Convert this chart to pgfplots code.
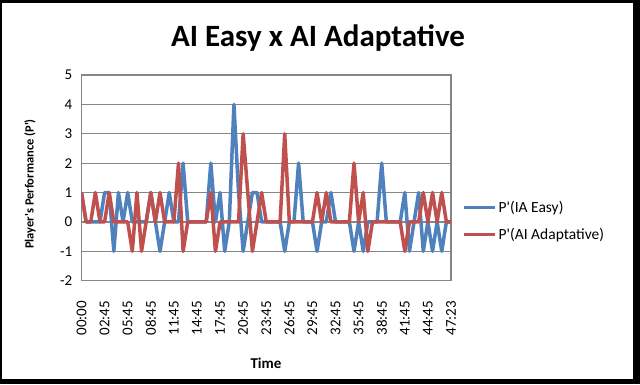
\documentclass[border=0pt]{standalone}
\usepackage{pgfplots}
\pgfplotsset{compat=1.18}
\usepackage{fontspec}
\setmainfont{Carlito}[Ligatures=TeXOff]
\definecolor{xlblue}{HTML}{4F81BD}
\definecolor{xlred}{HTML}{C0504D}
\definecolor{gridgray}{HTML}{868686}
\begin{document}
\begin{tikzpicture}
\useasboundingbox (-81.5pt,-103.3pt) rectangle (558.5pt,280.7pt);
\begin{scope}[x=1pt,y=1pt,shift={(-81.5pt,-103.3pt)}]
\fill[white] (0,0) rectangle (640,384);
\end{scope}
\begin{axis}[
  at={(0pt,0pt)}, anchor=south west,
  scale only axis, width=369.5pt, height=205.7pt,
  xmin=0, xmax=80, ymin=-2, ymax=5,
  xtick={0,5,...,80},
  xticklabels={00:00,02:45,05:45,08:45,11:45,14:45,17:45,20:45,23:45,26:45,29:45,32:45,35:45,38:45,41:45,44:45,47:23},
  ytick={-2,...,5},
  yticklabels={-2,-1,0,1,2,3,4,5},
  ymajorgrids,
  major grid style={gridgray, line width=1.2pt},
  axis line style={gridgray, line width=1.2pt},
  tick style={draw=none},
  xticklabel shift=20pt,
  yticklabel shift=9pt,
  xticklabel style={rotate=90, anchor=east, inner sep=0pt, font=\fontsize{15}{15}\selectfont},
  yticklabel style={anchor=east, inner sep=0pt, font=\fontsize{15}{15}\selectfont},
  legend style={at={(1,0.29)}, anchor=west, xshift=11pt, draw=none, fill=none,
    font=\fontsize{15.5}{15.5}\selectfont, row sep=10pt, inner sep=0pt, cells={anchor=west}},
  legend image code/.code={\draw[#1] (0pt,0pt) -- (31pt,0pt);},
]
\addplot[xlblue, line width=3.5pt, line join=round] coordinates {
(0,1)(1,0)(2,0)(3,0)(4,0)(5,1)(6,1)(7,-1)(8,1)(9,0)(10,1)(11,0)(12,0)(13,0)(14,0)(15,1)(16,0)(17,-1)(18,0)(19,1)(20,0)(21,0)(22,2)(23,0)(24,0)(25,0)(26,0)(27,0)(28,2)(29,0)(30,1)(31,-1)(32,0)(33,4)(34,1)(35,-1)(36,0)(37,1)(38,1)(39,0)(40,0)(41,0)(42,0)(43,0)(44,-1)(45,0)(46,0)(47,2)(48,0)(49,0)(50,0)(51,-1)(52,0)(53,0)(54,1)(55,0)(56,0)(57,0)(58,0)(59,-1)(60,0)(61,-1)(62,0)(63,0)(64,0)(65,2)(66,0)(67,0)(68,0)(69,0)(70,1)(71,-1)(72,0)(73,1)(74,-1)(75,0)(76,-1)(77,0)(78,-1)(79,0)(80,0)
};
\addlegendentry{P'(IA Easy)}
\addplot[xlred, line width=3.5pt, line join=round] coordinates {
(0,1)(1,0)(2,0)(3,1)(4,0)(5,0)(6,1)(7,0)(8,0)(9,0)(10,0)(11,-1)(12,1)(13,-1)(14,0)(15,1)(16,0)(17,1)(18,0)(19,0)(20,0)(21,2)(22,-1)(23,0)(24,0)(25,0)(26,0)(27,0)(28,1)(29,-1)(30,0)(31,0)(32,0)(33,0)(34,0)(35,3)(36,1)(37,-1)(38,0)(39,1)(40,0)(41,0)(42,0)(43,0)(44,3)(45,0)(46,0)(47,0)(48,0)(49,0)(50,0)(51,1)(52,0)(53,1)(54,0)(55,0)(56,0)(57,0)(58,0)(59,2)(60,0)(61,1)(62,-1)(63,0)(64,0)(65,0)(66,0)(67,0)(68,0)(69,0)(70,-1)(71,0)(72,0)(73,0)(74,1)(75,0)(76,1)(77,0)(78,1)(79,0)(80,0)
};
\addlegendentry{P'(AI Adaptative)}
\end{axis}
\begin{scope}[x=1pt,y=1pt,shift={(-81.5pt,-103.3pt)}]
\node[font=\bfseries\fontsize{31}{31}\selectfont] at (318,346) {AI Easy x AI Adaptative};
\node[rotate=90, font=\bfseries\fontsize{12.5}{12.5}\selectfont] at (30,200) {Player's Performance (P')};
\node[font=\bfseries\fontsize{15}{15}\selectfont] at (266,21) {Time};
\fill[black] (0,381.5) rectangle (640,384);
\fill[black] (0,0) rectangle (2.5,384);
\fill[black] (633,0) rectangle (640,384);
\fill[black] (0,0) rectangle (640,5);
\end{scope}
\end{tikzpicture}
\end{document}
